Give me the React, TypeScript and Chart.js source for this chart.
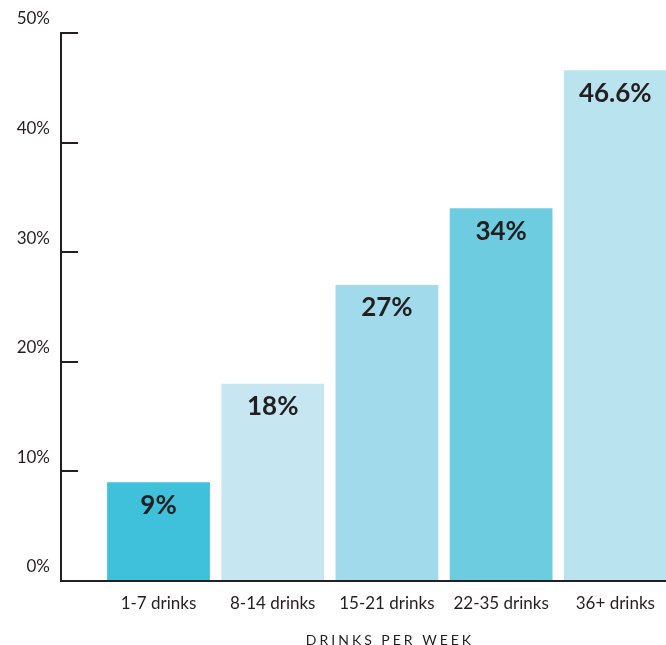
import React, { useEffect, useRef } from "react";
import { Chart, registerables } from "chart.js";

Chart.register(...registerables);

const categories = ["1-7 drinks", "8-14 drinks", "15-21 drinks", "22-35 drinks", "36+ drinks"];
const values = [9, 18, 27, 34, 46.6];
const barColors = ["#40C1DB", "#C6E7F1", "#A0DAEB", "#6ECCE1", "#BAE3F0"];
const yTicks = [0, 10, 20, 30, 40, 50];
const xTitle = "DRINKS PER WEEK";

const INK = "#231F20";

const barLabelPlugin = {
  id: "barLabels",
  afterDatasetsDraw(chart: any) {
    const ctx = chart.ctx;
    const meta = chart.getDatasetMeta(0);
    ctx.save();
    ctx.font = "bold 26px Lato";
    ctx.fillStyle = INK;
    ctx.textAlign = "center";
    ctx.textBaseline = "middle";
    meta.data.forEach((el: any, i: number) => {
      ctx.fillText(`${values[i]}%`, el.x, el.y + 23);
    });
    ctx.restore();
  },
};

const letterSpacingPlugin = {
  id: "titleSpacing",
  beforeDraw(chart: any) {
    const s = chart.scales.x;
    if (s && !s._spacedTitle) {
      const orig = s.drawTitle;
      s.drawTitle = function () {
        const ctx = this.ctx;
        ctx.save();
        ctx.letterSpacing = "3px";
        orig.call(this);
        ctx.restore();
      };
      s._spacedTitle = true;
    }
  },
};

export default function App() {
  const ref = useRef<HTMLCanvasElement>(null);
  useEffect(() => {
    if (!ref.current) return;
    const chart = new Chart(ref.current, {
      type: "bar",
      data: {
        datasets: [
          {
            data: values.map((v, i) => ({ x: i, y: v })),
            backgroundColor: barColors,
            borderWidth: 0,
            categoryPercentage: 1,
            barPercentage: 0.9,
          },
        ],
      },
      options: {
        animation: false,
        responsive: true,
        maintainAspectRatio: false,
        layout: { padding: { top: 33, left: 0, right: 1, bottom: 0 } },
        plugins: { legend: { display: false }, tooltip: { enabled: false } },
        scales: {
          x: {
            type: "linear",
            offset: false,
            min: -0.854,
            max: 4.908,
            afterBuildTicks: (s: any) => {
              s.ticks = categories.map((_, i) => ({ value: i }));
            },
            afterFit: (s: any) => {
              s.height = 64;
            },
            grid: { display: false, drawTicks: false, tickLength: 0 },
            border: { display: true, color: INK, width: 2 },
            ticks: {
              autoSkip: false,
              maxRotation: 0,
              padding: 12,
              color: INK,
              font: { family: "Lato", size: 17 },
              callback: (v: any) => categories[v as number] ?? "",
            },
            title: {
              display: true,
              text: xTitle,
              color: INK,
              font: { family: "Lato", size: 14 },
              padding: { top: 4, bottom: -4 },
            },
          },
          y: {
            min: 0,
            max: 50,
            afterBuildTicks: (s: any) => {
              s.ticks = yTicks.map((v) => ({ value: v }));
            },
            afterFit: (s: any) => {
              s.width = 61;
              s.paddingTop = 0;
              s.paddingBottom = 0;
            },
            grid: {
              drawOnChartArea: false,
              drawTicks: true,
              tickLength: -17,
              color: INK,
              lineWidth: 2,
            },
            border: { display: true, color: INK, width: 2 },
            ticks: {
              padding: 28,
              labelOffset: -14,
              color: INK,
              font: { family: "Lato", size: 17 },
              callback: (v: any) => `${v}%`,
            },
          },
        },
      },
      plugins: [barLabelPlugin, letterSpacingPlugin],
    });
    return () => chart.destroy();
  }, []);
  return (
    <div style={{ position: "absolute", left: 0, top: 0, width: 666, height: 645, overflow: "hidden", background: "#fff" }}>
      <div style={{ position: "relative", width: 720, height: 645 }}>
        <canvas ref={ref} />
      </div>
    </div>
  );
}
